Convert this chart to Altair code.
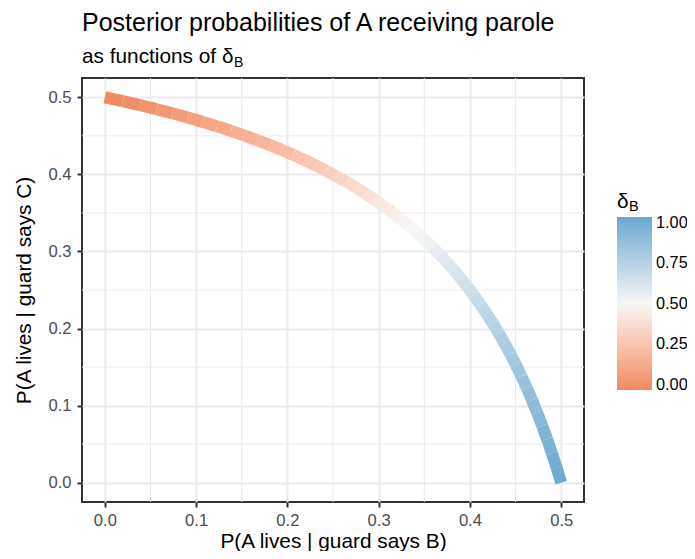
import altair as alt
import pandas as pd

# delta_B values along the curve
delta = [0.00, 0.02, 0.04, 0.06, 0.08, 0.10, 0.12, 0.14, 0.16, 0.18,
         0.20, 0.22, 0.24, 0.26, 0.28, 0.30, 0.32, 0.34, 0.36, 0.38,
         0.40, 0.42, 0.44, 0.46, 0.48, 0.50, 0.52, 0.54, 0.56, 0.58,
         0.60, 0.62, 0.64, 0.66, 0.68, 0.70, 0.72, 0.74, 0.76, 0.78,
         0.80, 0.82, 0.84, 0.86, 0.88, 0.90, 0.92, 0.94, 0.96, 0.98, 1.00]

# P(A lives | guard says B)
p_b = [0.0, 0.019608, 0.038462, 0.056604, 0.074074, 0.090909, 0.107143, 0.122807,
       0.137931, 0.152542, 0.166667, 0.180328, 0.193548, 0.206349, 0.21875, 0.230769,
       0.242424, 0.253731, 0.264706, 0.275362, 0.285714, 0.295775, 0.305556, 0.315068,
       0.324324, 0.333333, 0.342105, 0.350649, 0.358974, 0.367089, 0.375, 0.382716,
       0.390244, 0.39759, 0.404762, 0.411765, 0.418605, 0.425287, 0.431818, 0.438202,
       0.444444, 0.450549, 0.456522, 0.462366, 0.468085, 0.473684, 0.479167, 0.484536,
       0.489796, 0.494949, 0.5]

# P(A lives | guard says C)
p_c = [0.5, 0.494949, 0.489796, 0.484536, 0.479167, 0.473684, 0.468085, 0.462366,
       0.456522, 0.450549, 0.444444, 0.438202, 0.431818, 0.425287, 0.418605, 0.411765,
       0.404762, 0.39759, 0.390244, 0.382716, 0.375, 0.367089, 0.358974, 0.350649,
       0.342105, 0.333333, 0.324324, 0.315068, 0.305556, 0.295775, 0.285714, 0.275362,
       0.264706, 0.253731, 0.242424, 0.230769, 0.21875, 0.206349, 0.193548, 0.180328,
       0.166667, 0.152542, 0.137931, 0.122807, 0.107143, 0.090909, 0.074074, 0.056604,
       0.038462, 0.019608, 0.0]

tick_values = [0.0, 0.1, 0.2, 0.3, 0.4, 0.5]
minor_values = [0.05, 0.15, 0.25, 0.35, 0.45]
legend_values = [0.0, 0.25, 0.5, 0.75, 1.0]

FONT = "Liberation Sans"
X_TITLE = "P(A lives | guard says B)"
Y_TITLE = "P(A lives | guard says C)"

pts = pd.DataFrame({"delta": delta, "x": p_b, "y": p_c})
seg = pts.copy()
seg["x2"] = pts["x"].shift(-1)
seg["y2"] = pts["y"].shift(-1)
seg = seg.dropna()

minor_df = pd.DataFrame({"x": minor_values, "y": minor_values})
legend_df = pd.DataFrame({"v": legend_values})

xscale = alt.Scale(domain=[-0.025, 0.525], nice=False, zero=False)
yscale = alt.Scale(domain=[-0.025, 0.525], nice=False, zero=False)

xaxis = alt.Axis(values=tick_values, format=".1f", labelPadding=5,
                 titleX=251, titleY=39, titleBaseline="middle", titleAlign="center")
yaxis = alt.Axis(values=tick_values, format=".1f", labelPadding=6,
                 titleX=-58, titleY=212, titleBaseline="middle", titleAlign="center",
                 titleAngle=270)

minor_x = alt.Chart(minor_df).mark_rule(color="#EBEBEB", strokeWidth=1).encode(
    x=alt.X("x:Q", scale=xscale, axis=xaxis, title=X_TITLE)
)
minor_y = alt.Chart(minor_df).mark_rule(color="#EBEBEB", strokeWidth=1).encode(
    y=alt.Y("y:Q", scale=yscale, axis=yaxis, title=Y_TITLE)
)

curve = alt.Chart(seg).mark_rule(strokeWidth=12, strokeCap="butt").encode(
    x=alt.X("x:Q", scale=xscale, axis=xaxis, title=X_TITLE),
    y=alt.Y("y:Q", scale=yscale, axis=yaxis, title=Y_TITLE),
    x2="x2:Q",
    y2="y2:Q",
    color=alt.Color(
        "delta:Q",
        scale=alt.Scale(domain=[0, 0.5, 1], range=["#ef8a62", "#f7f7f7", "#67a9cf"],
                        interpolate="lab"),
        legend=alt.Legend(orient="none", legendX=535, legendY=139, title=None,
                          gradientLength=173, gradientThickness=35,
                          gradientStrokeWidth=0, values=legend_values, format=".2f",
                          labelOpacity=0, labelFontSize=1, padding=0),
    ),
)

# colour-bar labels placed at their values along the bar
legend_labels = alt.Chart(legend_df).transform_calculate(
    ly="307 - 162.3 * datum.v"
).mark_text(
    font=FONT, fontSize=16.3, align="left", baseline="middle", color="black"
).encode(
    text=alt.Text("v:Q", format=".2f"),
    x=alt.value(574),
    y=alt.Y("ly:Q", scale=None),
)

sub_b = alt.Chart(pd.DataFrame({"t": ["B"]})).mark_text(
    font=FONT, fontSize=14, align="left", baseline="alphabetic", color="black"
).encode(text="t:N", x=alt.value(152), y=alt.value(-11))

leg_d = alt.Chart(pd.DataFrame({"t": ["δ"]})).mark_text(
    font=FONT, fontSize=20.8, align="left", baseline="alphabetic", color="black"
).encode(text="t:N", x=alt.value(535), y=alt.value(130))

leg_b = alt.Chart(pd.DataFrame({"t": ["B"]})).mark_text(
    font=FONT, fontSize=14.5, align="left", baseline="alphabetic", color="black"
).encode(text="t:N", x=alt.value(547), y=alt.value(133))

chart = alt.layer(minor_x, minor_y, curve, legend_labels, sub_b, leg_d, leg_b).properties(
    width=502,
    height=424,
    autosize=alt.AutoSizeParams(type="none"),
    padding={"left": 74, "top": 70, "right": 103, "bottom": 49},
    title=alt.Title(
        "Posterior probabilities of A receiving parole",
        subtitle="as functions of δ",
        anchor="start", frame="group", font=FONT, fontSize=25, fontWeight="normal",
        color="black", subtitleFont=FONT, subtitleFontSize=20.8, subtitleColor="black",
        offset=-11, subtitlePadding=11,
    ),
).configure_view(
    stroke="#333333", strokeWidth=2
).configure_axis(
    grid=True, gridColor="#EBEBEB", gridWidth=2, domain=False,
    tickColor="#333333", tickWidth=2, tickSize=5,
    labelColor="#4D4D4D", labelFontSize=16.6, labelFont=FONT,
    titleFont=FONT, titleFontSize=20.8, titleFontWeight="normal", titleColor="black",
)

chart.save("out.html", embed_options={"renderer": "svg", "actions": False})
